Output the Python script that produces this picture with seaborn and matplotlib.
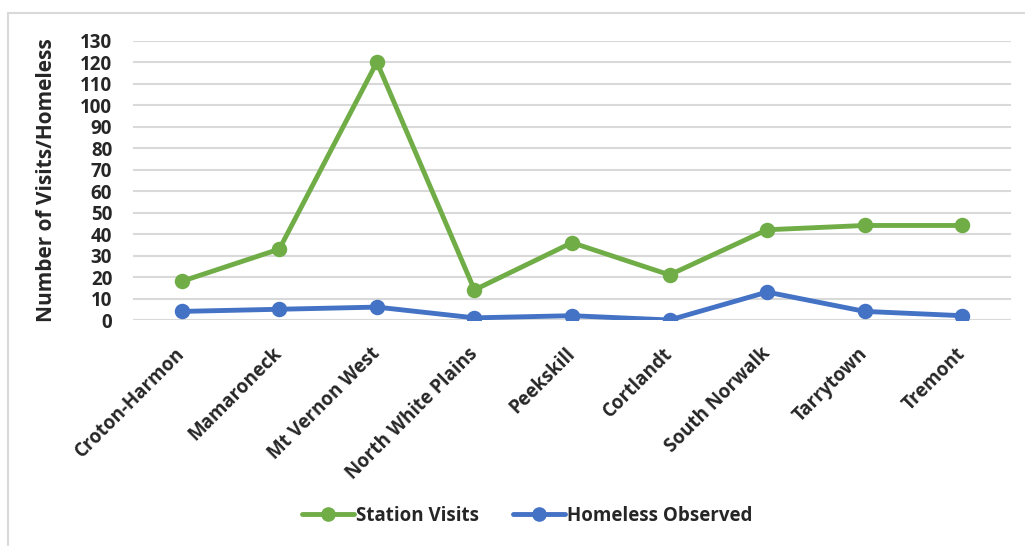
import matplotlib
matplotlib.use("Agg")
import matplotlib.pyplot as plt
import seaborn as sns
import pandas as pd
from matplotlib.patches import Rectangle
from matplotlib.lines import Line2D

stations = ["Croton-Harmon", "Mamaroneck", "Mt Vernon West", "North White Plains",
            "Peekskill", "Cortlandt", "South Norwalk", "Tarrytown", "Tremont"]
station_visits = [18, 33, 120, 14, 36, 21, 42, 44, 44]
homeless_observed = [4, 5, 6, 1, 2, 0, 13, 4, 2]
yticks = list(range(0, 131, 10))

df = pd.DataFrame({
    "Station": stations * 2,
    "Value": station_visits + homeless_observed,
    "Series": ["Station Visits"] * len(stations) + ["Homeless Observed"] * len(stations),
})

sns.set_style("white")
plt.rcParams["font.family"] = ["Open Sans", "DejaVu Sans"]
plt.rcParams["font.weight"] = "bold"

FS = 13.5

fig = plt.figure(figsize=(10.25, 5.46), dpi=100)
ax = fig.add_axes([133 / 1025, 1 - 320 / 546, (1011 - 133) / 1025, (320 - 40.7) / 546])

palette = {"Station Visits": "#70AD47", "Homeless Observed": "#4472C4"}
sns.pointplot(data=df, x="Station", y="Value", hue="Series", palette=palette,
              order=stations, markers="o", markersize=8.5, linewidth=3.5,
              ax=ax, legend=False, zorder=3)

ax.set_ylim(0, 130)
ax.set_xlim(-0.5, len(stations) - 0.5)
ax.set_yticks(yticks)
ax.set_yticklabels([str(v) for v in yticks], fontsize=FS, fontweight="bold")
ax.yaxis.grid(True, color="#D9D9D9", linewidth=1.5, zorder=0)
ax.xaxis.grid(False)
for s in ax.spines.values():
    s.set_visible(False)
ax.tick_params(axis="y", length=0, pad=15)
ax.tick_params(axis="x", length=0, pad=22)
ax.set_xticks(range(len(stations)))
ax.set_xticklabels(stations, rotation=45, ha="right", va="center",
                   rotation_mode="anchor", fontsize=FS, fontweight="bold")
ax.set_xlabel("")
ax.set_ylabel("Number of Visits/Homeless", fontsize=15, fontweight="bold")
ax.yaxis.set_label_coords(-0.087, 0.5)

handles = [Line2D([0], [0], color="#70AD47", lw=3.5, marker="o", markersize=9.5),
           Line2D([0], [0], color="#4472C4", lw=3.5, marker="o", markersize=9.5)]
fig.legend(handles, ["Station Visits", "Homeless Observed"], loc="center",
           bbox_to_anchor=(527 / 1025, 1 - 516 / 546), ncol=2, frameon=False,
           prop={"weight": "bold", "size": FS}, handlelength=2.8,
           handletextpad=0.1, columnspacing=1.8)

fig.patches.append(Rectangle((8 / 1025, -0.01), 1.2, 1 - 13 / 546 + 0.01,
                             transform=fig.transFigure, fill=False,
                             edgecolor="#D9D9D9", linewidth=1.5))

fig.savefig("out.png", dpi=100, facecolor="white")
